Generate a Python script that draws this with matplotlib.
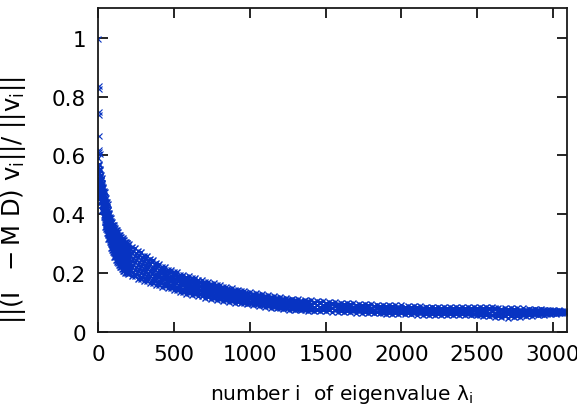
import numpy as np
import matplotlib
matplotlib.use("Agg")
import matplotlib.pyplot as plt

# isolated large residuals of the first few eigenvectors
out_i = [0, 1, 2, 3, 4, 6, 8, 2, 5]
out_v = [0.995, 0.836, 0.827, 0.749, 0.736, 0.665, 0.606, 0.620, 0.612]

# eigenvalue index columns (dense near the start)
idx = list(range(0, 200, 5)) + list(range(200, 3081, 20))

# residual values (x1000), five levels per column, top -> bottom
v_top = [592, 570, 553, 535, 524, 505, 494, 480, 474, 460, 454, 440, 434, 415, 404, 390, 387, 376, 374, 365,
         364, 355, 354, 346, 346, 338, 339, 331, 331, 323, 324, 317, 318, 311, 312, 305, 307, 301, 303, 297,
         298, 289, 286, 275, 271, 259, 258, 249, 246, 235, 231, 221, 220, 211, 211, 203, 203, 195, 195, 188,
         189, 182, 183, 176, 177, 170, 171, 164, 165, 158, 159, 152, 154, 147, 149, 142, 144, 138, 139, 133,
         135, 129, 131, 126, 128, 122, 124, 119, 121, 116, 118, 113, 116, 110, 113, 108, 111, 106, 109, 104,
         107, 102, 105, 101, 104, 99, 102, 98, 101, 96, 100, 95, 98, 94, 97, 92, 96, 91, 95, 90,
         94, 89, 93, 88, 92, 88, 91, 87, 90, 86, 90, 85, 89, 84, 88, 84, 87, 83, 86, 82,
         86, 82, 85, 81, 85, 81, 85, 81, 85, 81, 85, 81, 85, 82, 86, 82, 86, 81, 85, 80,
         84, 80, 83, 79, 82, 78, 82, 77, 81, 76, 80, 76, 79, 75, 78, 74, 77, 73, 76, 72,
         75, 70, 74, 69, 72]
v_up = [561, 549, 526, 515, 496, 487, 469, 462, 445, 438, 424, 418, 404, 394, 378, 373, 361, 357, 346, 345,
        336, 334, 325, 325, 317, 316, 309, 309, 301, 301, 294, 295, 288, 289, 282, 283, 277, 279, 274, 276,
        271, 268, 258, 255, 244, 241, 232, 232, 222, 220, 209, 208, 200, 199, 191, 192, 184, 184, 176, 177,
        171, 172, 165, 166, 159, 161, 154, 155, 148, 150, 143, 144, 138, 140, 134, 135, 129, 131, 125, 127,
        121, 123, 117, 120, 114, 117, 111, 114, 108, 111, 105, 108, 103, 105, 100, 103, 98, 101, 96, 100,
        95, 98, 93, 97, 92, 96, 91, 95, 90, 93, 89, 92, 87, 91, 86, 89, 85, 88, 84, 87,
        83, 87, 82, 86, 81, 85, 81, 85, 80, 84, 80, 83, 79, 82, 78, 82, 77, 81, 76, 80,
        76, 80, 75, 79, 75, 79, 75, 79, 75, 79, 75, 79, 75, 79, 75, 79, 75, 78, 74, 77,
        73, 77, 72, 76, 71, 75, 71, 75, 71, 74, 70, 75, 70, 74, 70, 74, 69, 74, 69, 73,
        68, 72, 68, 72, 68]
v_mid = [538, 517, 507, 488, 477, 460, 452, 435, 424, 408, 402, 388, 382, 365, 359, 348, 343, 331, 327, 318,
         316, 305, 304, 296, 295, 287, 287, 278, 278, 271, 272, 265, 265, 258, 259, 253, 255, 250, 252, 247,
         249, 240, 237, 228, 225, 215, 215, 207, 206, 197, 195, 187, 187, 179, 180, 172, 172, 165, 165, 159,
         160, 154, 155, 149, 150, 143, 145, 138, 140, 133, 135, 129, 131, 125, 127, 121, 123, 117, 119, 113,
         116, 110, 112, 107, 109, 104, 106, 101, 103, 98, 100, 95, 98, 93, 96, 91, 94, 89, 92, 88,
         91, 86, 90, 85, 89, 84, 88, 83, 87, 82, 86, 81, 84, 80, 83, 79, 83, 78, 82, 77,
         81, 76, 80, 75, 79, 75, 78, 74, 77, 73, 77, 73, 76, 72, 75, 71, 75, 71, 74, 70,
         74, 70, 73, 69, 73, 69, 73, 69, 73, 69, 73, 69, 73, 69, 73, 69, 72, 67, 71, 66,
         70, 65, 69, 64, 67, 63, 68, 64, 68, 64, 69, 65, 69, 65, 69, 66, 70, 66, 70, 66,
         70, 66, 71, 67, 71]
v_low = [503, 496, 479, 468, 449, 442, 427, 417, 396, 386, 372, 366, 352, 345, 333, 331, 318, 312, 300, 298,
         288, 285, 276, 275, 266, 266, 257, 256, 248, 249, 242, 243, 235, 236, 229, 231, 226, 228, 223, 226,
         220, 219, 209, 208, 199, 198, 189, 190, 182, 182, 174, 175, 167, 168, 161, 161, 153, 154, 147, 148,
         142, 144, 138, 139, 132, 134, 128, 130, 123, 125, 119, 121, 115, 118, 112, 114, 109, 111, 105, 107,
         102, 105, 99, 102, 96, 99, 93, 96, 90, 93, 87, 90, 85, 88, 83, 86, 81, 85, 80, 84,
         79, 82, 78, 82, 77, 81, 77, 80, 76, 79, 75, 79, 74, 78, 73, 76, 72, 75, 71, 74,
         70, 74, 69, 73, 68, 72, 68, 72, 67, 71, 67, 71, 66, 70, 65, 69, 65, 69, 64, 68,
         64, 68, 63, 67, 63, 67, 63, 67, 63, 67, 63, 67, 63, 66, 62, 66, 62, 65, 61, 64,
         59, 62, 58, 61, 56, 60, 57, 62, 58, 62, 59, 64, 60, 64, 61, 65, 62, 67, 62, 67,
         64, 68, 65, 69, 66]
v_bot = [480, 466, 460, 441, 430, 416, 410, 391, 375, 356, 350, 336, 330, 316, 315, 306, 300, 286, 280, 270,
         268, 256, 255, 246, 245, 236, 235, 226, 226, 219, 220, 213, 213, 206, 207, 201, 204, 199, 202, 197,
         199, 190, 189, 181, 180, 172, 172, 165, 166, 159, 160, 154, 155, 148, 149, 142, 142, 135, 136, 130,
         132, 126, 128, 122, 123, 117, 119, 113, 115, 109, 111, 106, 108, 103, 105, 100, 103, 97, 100, 94,
         97, 92, 94, 89, 91, 86, 89, 83, 86, 80, 83, 78, 81, 76, 79, 74, 77, 73, 76, 72,
         75, 71, 75, 70, 74, 70, 74, 69, 73, 68, 72, 68, 71, 67, 70, 66, 70, 65, 69, 64,
         68, 64, 67, 63, 66, 62, 66, 62, 65, 61, 65, 61, 64, 60, 63, 59, 63, 59, 62, 58,
         62, 58, 61, 57, 61, 57, 61, 57, 61, 57, 61, 57, 61, 56, 60, 56, 59, 54, 58, 53,
         56, 51, 55, 50, 53, 49, 54, 51, 55, 52, 57, 54, 59, 55, 60, 57, 62, 59, 63, 60,
         65, 62, 67, 64, 68]

# extra points in the wide part of the band (x1000), four levels per column
idx2 = list(range(2, 200, 5)) + list(range(210, 1400, 20))
w_a = [568, 551, 531, 517, 504, 490, 475, 465, 453, 443, 435, 425, 415, 400, 387, 377, 370, 362, 356, 351,
       347, 341, 336, 332, 328, 324, 321, 317, 313, 309, 307, 304, 301, 298, 295, 292, 290, 288, 287, 285,
       282, 275, 269, 261, 254, 248, 243, 237, 231, 224, 217, 212, 207, 203, 199, 195, 191, 188, 184, 181,
       178, 176, 173, 170, 167, 164, 161, 158, 155, 152, 150, 147, 145, 143, 140, 138, 136, 133, 131, 129,
       127, 125, 124, 122, 120, 119, 117, 116, 114, 113, 111, 110, 109, 107, 106, 105, 104, 103, 102, 101]
w_b = [541, 525, 508, 493, 480, 467, 454, 442, 428, 417, 409, 399, 389, 375, 364, 356, 348, 340, 332, 327,
       323, 316, 311, 307, 303, 299, 295, 291, 287, 284, 281, 279, 275, 272, 269, 267, 265, 263, 262, 260,
       257, 251, 245, 238, 232, 226, 222, 217, 211, 205, 200, 196, 191, 188, 184, 180, 176, 173, 170, 167,
       164, 162, 159, 156, 153, 151, 148, 146, 143, 140, 138, 136, 134, 132, 129, 127, 126, 123, 121, 120,
       118, 116, 115, 113, 111, 110, 108, 107, 105, 104, 102, 101, 100, 99, 98, 97, 96, 95, 94, 93]
w_c = [512, 498, 485, 470, 457, 445, 433, 420, 404, 391, 383, 373, 363, 351, 342, 335, 326, 317, 309, 304,
       299, 292, 287, 282, 278, 274, 269, 265, 261, 258, 255, 253, 249, 246, 243, 241, 239, 238, 236, 235,
       232, 226, 221, 215, 209, 205, 200, 196, 192, 187, 183, 179, 176, 172, 169, 165, 161, 158, 155, 153,
       150, 148, 145, 143, 140, 138, 135, 133, 131, 128, 126, 124, 122, 121, 119, 117, 115, 113, 112, 110,
       109, 107, 105, 104, 102, 101, 99, 98, 96, 95, 94, 93, 91, 90, 89, 88, 88, 87, 86, 85]
w_d = [483, 473, 461, 446, 433, 423, 412, 398, 379, 365, 357, 347, 337, 326, 320, 314, 305, 295, 286, 280,
       275, 268, 263, 258, 253, 249, 244, 239, 235, 232, 230, 227, 223, 220, 217, 215, 214, 212, 211, 210,
       207, 202, 197, 192, 187, 183, 179, 176, 172, 169, 166, 163, 160, 156, 153, 150, 146, 143, 140, 138,
       136, 134, 132, 129, 127, 125, 122, 120, 118, 116, 114, 113, 111, 110, 108, 107, 105, 104, 102, 100,
       99, 98, 96, 95, 93, 92, 90, 89, 87, 86, 85, 84, 83, 82, 81, 80, 79, 79, 78, 77]

xticks = [0, 500, 1000, 1500, 2000, 2500, 3000]
yticks = [0, 0.2, 0.4, 0.6, 0.8, 1]
ytick_labels = ["0", "0.2", "0.4", "0.6", "0.8", "1"]

blue = "#0733c2"
fs = 15.5

fig = plt.figure(figsize=(5.77, 4.06), dpi=100)
ax = fig.add_axes([0.1707, 0.18, 0.8113, 0.797])

mk = dict(linestyle="none", marker="x", color=blue, markersize=5.0, markeredgewidth=1.0)
for row in [v_top, v_up, v_mid, v_low, v_bot]:
    ax.plot(idx, np.array(row) / 1000.0, **mk)
for row in [w_a, w_b, w_c, w_d]:
    ax.plot(idx2, np.array(row) / 1000.0, **mk)
ax.plot(out_i, out_v, linestyle="none", marker="x", color=blue, markersize=3.8, markeredgewidth=0.8)

ax.set_xlim(0, 3090)
ax.set_ylim(0, 1.1)
ax.set_xticks(xticks)
ax.set_xticklabels([str(t) for t in xticks])
ax.set_yticks(yticks)
ax.set_yticklabels(ytick_labels)
ax.tick_params(direction="in", length=7, width=1.2, top=True, right=True,
               labelsize=fs, pad=9, colors="black")
for s in ax.spines.values():
    s.set_linewidth(1.3)
    s.set_color("#1a1a1a")

ax.set_xlabel(r"number i  of eigenvalue $\mathrm{\lambda_i}$", fontsize=14.5)
ax.set_ylabel(r"$||(\mathrm{I}\ \ -\mathrm{M}\ \mathrm{D})\ \mathrm{v_i}||/\ ||\mathrm{v_i}||$",
              fontsize=17.5)
ax.xaxis.set_label_coords(0.52, -0.155)
ax.yaxis.set_label_coords(-0.15, 0.41)

fig.savefig("out.png", dpi=100)
